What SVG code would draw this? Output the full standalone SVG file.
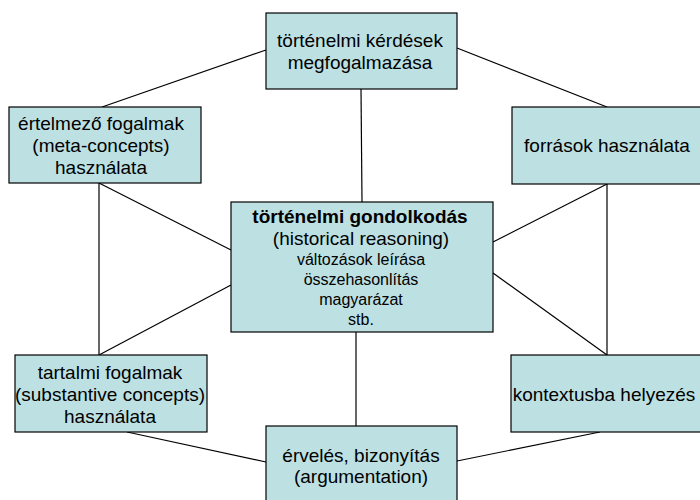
<svg xmlns="http://www.w3.org/2000/svg" width="700" height="500" viewBox="0 0 700 500">
<style>
.box{fill:#BDE0E3;stroke:#000;stroke-width:1.2}
.t{font-family:"Liberation Sans",Arial,sans-serif;font-size:19px;fill:#000;text-anchor:middle}
.s{font-size:16px}
.b{font-weight:bold}
.ln{stroke:#000;stroke-width:1.2;fill:none}
</style>
<rect width="700" height="500" fill="#fff"/>
<g id="connectors">
<line class="ln" x1="361" y1="89" x2="362" y2="202"/>
<line class="ln" x1="266" y1="50" x2="102" y2="107"/>
<line class="ln" x1="457" y1="48" x2="607" y2="107"/>
<line class="ln" x1="99" y1="183" x2="99" y2="355"/>
<line class="ln" x1="99" y1="183" x2="231" y2="250"/>
<line class="ln" x1="99" y1="355" x2="231" y2="285"/>
<line class="ln" x1="607" y1="184" x2="607" y2="355"/>
<line class="ln" x1="493" y1="242" x2="607" y2="184"/>
<line class="ln" x1="493" y1="273" x2="607" y2="355"/>
<line class="ln" x1="356" y1="332" x2="356" y2="426"/>
<line class="ln" x1="127" y1="432" x2="266" y2="462"/>
<line class="ln" x1="600" y1="432" x2="457" y2="461"/>
</g>
<g id="node-top">
<rect class="box" x="266" y="13" width="191" height="76"/>
<text class="t" x="360" y="47">történelmi kérdések</text>
<text class="t" x="360" y="69">megfogalmazása</text>
</g>
<g id="node-meta">
<rect class="box" x="9" y="107" width="192" height="76"/>
<text class="t" x="101" y="130">értelmező fogalmak</text>
<text class="t" x="101" y="152">(meta-concepts)</text>
<text class="t" x="101" y="174">használata</text>
</g>
<g id="node-sources">
<rect class="box" x="512" y="107" width="190" height="77"/>
<text class="t" x="607" y="152">források használata</text>
</g>
<g id="node-center">
<rect class="box" x="231" y="202" width="262" height="130"/>
<text class="t b" x="360" y="223">történelmi gondolkodás</text>
<text class="t" x="361" y="245">(historical reasoning)</text>
<text class="t s" x="361" y="265">változások leírása</text>
<text class="t s" x="361" y="285">összehasonlítás</text>
<text class="t s" x="361" y="305">magyarázat</text>
<text class="t s" x="361" y="325">stb.</text>
</g>
<g id="node-substantive">
<rect class="box" x="15" y="355" width="192" height="77"/>
<text class="t" x="110" y="379">tartalmi fogalmak</text>
<text class="t" x="110" y="401">(substantive concepts)</text>
<text class="t" x="110" y="423">használata</text>
</g>
<g id="node-context">
<rect class="box" x="511" y="355" width="192" height="77"/>
<text class="t" x="604" y="401">kontextusba helyezés</text>
</g>
<g id="node-argument">
<rect class="box" x="266" y="426" width="191" height="85"/>
<text class="t" x="361" y="462">érvelés, bizonyítás</text>
<text class="t" x="361" y="483">(argumentation)</text>
</g>
</svg>
